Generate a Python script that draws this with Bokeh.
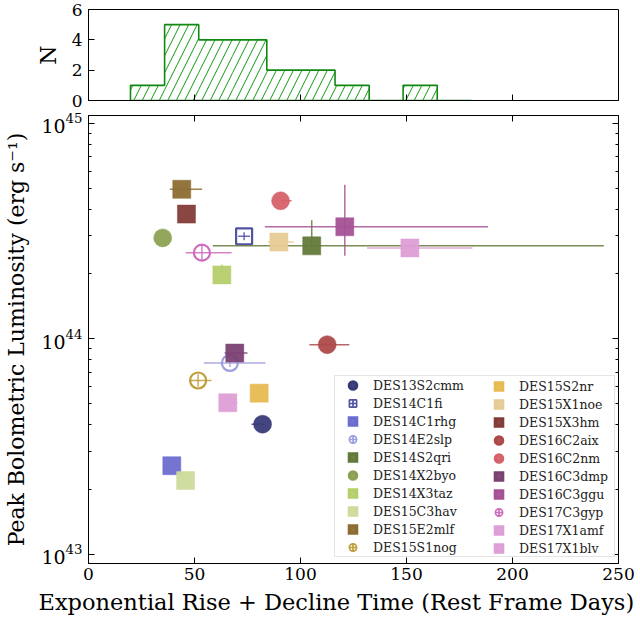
import math
from bokeh.plotting import figure
from bokeh.layouts import column
from bokeh.models import (Range1d, LinearAxis, LogAxis, FixedTicker, LogTickFormatter,
                          Legend, LegendItem, CustomLabelingPolicy, Title)
from bokeh.embed import file_html
from bokeh.resources import INLINE

# ---------------- data ----------------
names = ["DES13S2cmm", "DES14C1fi", "DES14C1rhg", "DES14E2slp", "DES14S2qri",
         "DES14X2byo", "DES14X3taz", "DES15C3hav", "DES15E2mlf", "DES15S1nog",
         "DES15S2nr", "DES15X1noe", "DES15X3hm", "DES16C2aix", "DES16C2nm",
         "DES16C3dmp", "DES16C3ggu", "DES17C3gyp", "DES17X1amf", "DES17X1blv"]
colors = ["#393b79", "#5254a3", "#6b6ecf", "#9c9ede", "#637939",
          "#8ca252", "#b5cf6b", "#cedb9c", "#8c6d31", "#bd9e39",
          "#e7ba52", "#e7cb94", "#843c39", "#ad494a", "#d6616b",
          "#7b4173", "#a55194", "#ce6dbd", "#de9ed6", "#de9ed6"]
markers = ["circle", "square", "square", "circle", "square",
           "circle", "square", "square", "square", "circle",
           "square", "square", "square", "circle", "circle",
           "square", "square", "circle", "square", "square"]
hollow = [False, True, False, True, False,
          False, False, False, False, True,
          False, False, False, False, False,
          False, False, True, False, False]

# rise + decline time (rest-frame days) with error-bar ends
x_days = [82.1, 73.4, 39.3, 66.7, 105.3, 35.0, 62.9, 45.8, 44.0, 51.7,
          80.5, 89.8, 46.2, 112.6, 90.6, 69.0, 120.9, 53.5, 65.7, 151.6]
x_lo = [76.9, 70.6, 39.3, 54.4, 58.6, 35.0, 62.9, 45.8, 38.4, 47.5,
        80.5, 84.6, 46.2, 104.2, 90.6, 64.2, 83.2, 45.8, 65.7, 131.4]
x_hi = [83.0, 76.2, 39.3, 83.5, 243.1, 35.0, 62.9, 45.8, 53.6, 58.0,
        80.5, 96.8, 46.2, 123.0, 95.8, 75.0, 188.5, 67.5, 70.3, 181.1]

# peak bolometric luminosity (erg/s) with error-bar ends
lum = [4.02e43, 2.99e44, 2.58e43, 7.73e43, 2.70e44, 2.94e44, 1.98e44, 2.20e43, 4.94e44, 6.41e43,
       5.60e43, 2.81e44, 3.79e44, 9.40e43, 4.37e44, 8.59e43, 3.31e44, 2.51e44, 5.05e43, 2.64e44]
lum_lo = [4.02e43, 2.87e44, 2.58e43, 7.40e43, 2.70e44, 2.94e44, 1.98e44, 2.20e43, 4.94e44, 6.00e43,
          5.60e43, 2.81e44, 3.79e44, 9.40e43, 4.37e44, 8.59e43, 2.43e44, 2.29e44, 5.05e43, 2.64e44]
lum_hi = [4.02e43, 3.12e44, 2.58e43, 7.80e43, 3.55e44, 2.94e44, 2.21e44, 2.20e43, 4.94e44, 6.85e43,
          5.60e43, 2.81e44, 3.79e44, 9.40e43, 4.37e44, 8.59e43, 5.18e44, 2.75e44, 5.05e43, 2.64e44]

# histogram (top panel)
hist_edges = [19.8, 35.9, 52.0, 68.0, 84.1, 100.2, 116.3, 132.4, 148.4, 164.5, 180.6]
hist_counts = [1, 5, 4, 4, 2, 2, 1, 0, 1, 0]

x_ticks = [0, 50, 100, 150, 200, 250]
hist_ticks = [0, 2, 4, 6]
lum_ticks = [1e43, 1e44, 1e45]
lum_minor = [m * 10.0 ** e for e in (42, 43, 44) for m in range(2, 10)]

FONT = "DejaVu Serif"
X_TITLE = "Exponential Rise + Decline Time (Rest Frame Days)"
Y_TITLE = "Peak Bolometric Luminosity (erg s\u207b\u00b9)"

HIDE_CODE = """
for (let i = 0; i < indices.size; i++) { indices.unset(i) }
return indices
"""


def style_axis(ax, labels=True, size="17px"):
    ax.major_tick_in = 6
    ax.major_tick_out = 0
    ax.minor_tick_in = 3
    ax.minor_tick_out = 0
    ax.axis_line_color = "black"
    ax.major_tick_line_color = "black"
    ax.minor_tick_line_color = "black"
    ax.major_label_text_font = FONT
    ax.major_label_text_color = "black"
    ax.axis_label_text_font = FONT
    ax.axis_label_text_font_size = "22px"
    ax.axis_label_text_font_style = "normal"
    ax.axis_label_text_color = "black"
    if labels:
        ax.major_label_text_font_size = size
    else:
        ax.major_label_text_font_size = "1px"
        ax.major_label_standoff = 0
        ax.major_label_policy = CustomLabelingPolicy(code=HIDE_CODE)


x_range = Range1d(0, 250)

# ---------------- histogram panel ----------------
ph = figure(width=640, height=111, x_range=x_range, y_range=Range1d(0, 6),
            output_backend="svg", toolbar_location=None,
            x_axis_location=None, y_axis_location=None,
            min_border_left=88, min_border_right=22, min_border_top=9, min_border_bottom=11)
ph.grid.visible = False
ph.outline_line_color = "black"
ph.outline_line_alpha = 1.0

hx = LinearAxis(ticker=FixedTicker(ticks=x_ticks))
style_axis(hx, labels=False)
hx.minor_tick_line_color = None
ph.add_layout(hx, "below")

hy = LinearAxis(ticker=FixedTicker(ticks=hist_ticks), axis_label="N")
style_axis(hy)
hy.minor_tick_line_color = None
hy.major_label_standoff = 6
hy.axis_label_standoff = 8
ph.add_layout(hy, "left")

ph.quad(left=hist_edges[:-1], right=hist_edges[1:], bottom=0, top=hist_counts,
        fill_color=None, line_color=None, hatch_pattern="/", hatch_color="#119911",
        hatch_scale=17, hatch_weight=1.0)
step_x = [hist_edges[0]]
step_y = [0]
for i, c in enumerate(hist_counts):
    step_x += [hist_edges[i], hist_edges[i + 1]]
    step_y += [c, c]
step_x += [hist_edges[-1], hist_edges[0]]
step_y += [0, 0]
ph.line(step_x, step_y, line_color="#118811", line_width=1.6)

# ---------------- main panel ----------------
p = figure(width=640, height=508, x_range=x_range,
           y_range=Range1d(10 ** 42.958, 10 ** 45.036), y_axis_type="log",
           output_backend="svg", toolbar_location=None,
           x_axis_location=None, y_axis_location=None,
           min_border_left=88, min_border_right=22, min_border_top=2, min_border_bottom=56)
p.grid.visible = False
p.outline_line_color = "black"
p.outline_line_alpha = 1.0

bx = LinearAxis(ticker=FixedTicker(ticks=x_ticks))
style_axis(bx)
bx.minor_tick_line_color = None
bx.major_label_standoff = 4
p.add_layout(bx, "below")

xt = Title(text=X_TITLE, align="left", offset=-50, standoff=8,
           text_font=FONT, text_font_size="22.5px", text_font_style="normal",
           text_color="black")
p.add_layout(xt, "below")

tx = LinearAxis(ticker=FixedTicker(ticks=x_ticks))
style_axis(tx, labels=False)
tx.minor_tick_line_color = None
p.add_layout(tx, "above")

ly = LogAxis(ticker=FixedTicker(ticks=lum_ticks, minor_ticks=lum_minor),
             formatter=LogTickFormatter(), axis_label=Y_TITLE)
style_axis(ly, size="19px")
ly.major_label_standoff = 6
ly.axis_label_standoff = 9
p.add_layout(ly, "left")

ry = LogAxis(ticker=FixedTicker(ticks=lum_ticks, minor_ticks=lum_minor))
style_axis(ry, labels=False)
p.add_layout(ry, "right")

nan = float("nan")
items = []
for i, name in enumerate(names):
    c = colors[i]
    p.segment(x0=[x_lo[i]], y0=[lum[i]], x1=[x_hi[i]], y1=[lum[i]],
              line_color=c, line_alpha=0.85, line_width=1.5)
    p.segment(x0=[x_days[i]], y0=[lum_lo[i]], x1=[x_days[i]], y1=[lum_hi[i]],
              line_color=c, line_alpha=0.85, line_width=1.5)
    if hollow[i]:
        p.scatter(x=[x_days[i]], y=[lum[i]], marker=markers[i], size=16,
                  fill_color=None, line_color=c, line_width=2.2)
        lr = p.scatter(x=[nan], y=[nan], marker=markers[i] + "_cross", size=10,
                       fill_color=None, line_color=c, line_width=1.7)
    else:
        p.scatter(x=[x_days[i]], y=[lum[i]], marker=markers[i], size=18,
                  fill_color=c, fill_alpha=0.95, line_color=c, line_alpha=0.5, line_width=1)
        lr = p.scatter(x=[nan], y=[nan], marker=markers[i], size=10,
                       fill_color=c, fill_alpha=0.95, line_color=c, line_alpha=1.0,
                       line_width=3.4, line_join="miter")
    items.append(LegendItem(label=name, renderers=[lr]))

common = dict(orientation="vertical", glyph_width=35, glyph_height=18, spacing=0,
              padding=0, margin=0, label_standoff=3, label_height=18,
              label_text_font=FONT, label_text_font_size="12.5px", label_text_color="#222222")
leg1 = Legend(items=items[:10], location=(246, 6), label_width=241,
              border_line_color="#cccccc", border_line_width=1,
              background_fill_color="white", background_fill_alpha=0.85, **common)
leg2 = Legend(items=items[10:], location=(393, 6), label_width=20,
              border_line_color=None, background_fill_alpha=0.0, **common)
p.add_layout(leg1)
p.add_layout(leg2)

layout = column(ph, p, spacing=0)
open("out.html", "w").write(file_html(layout, INLINE))
